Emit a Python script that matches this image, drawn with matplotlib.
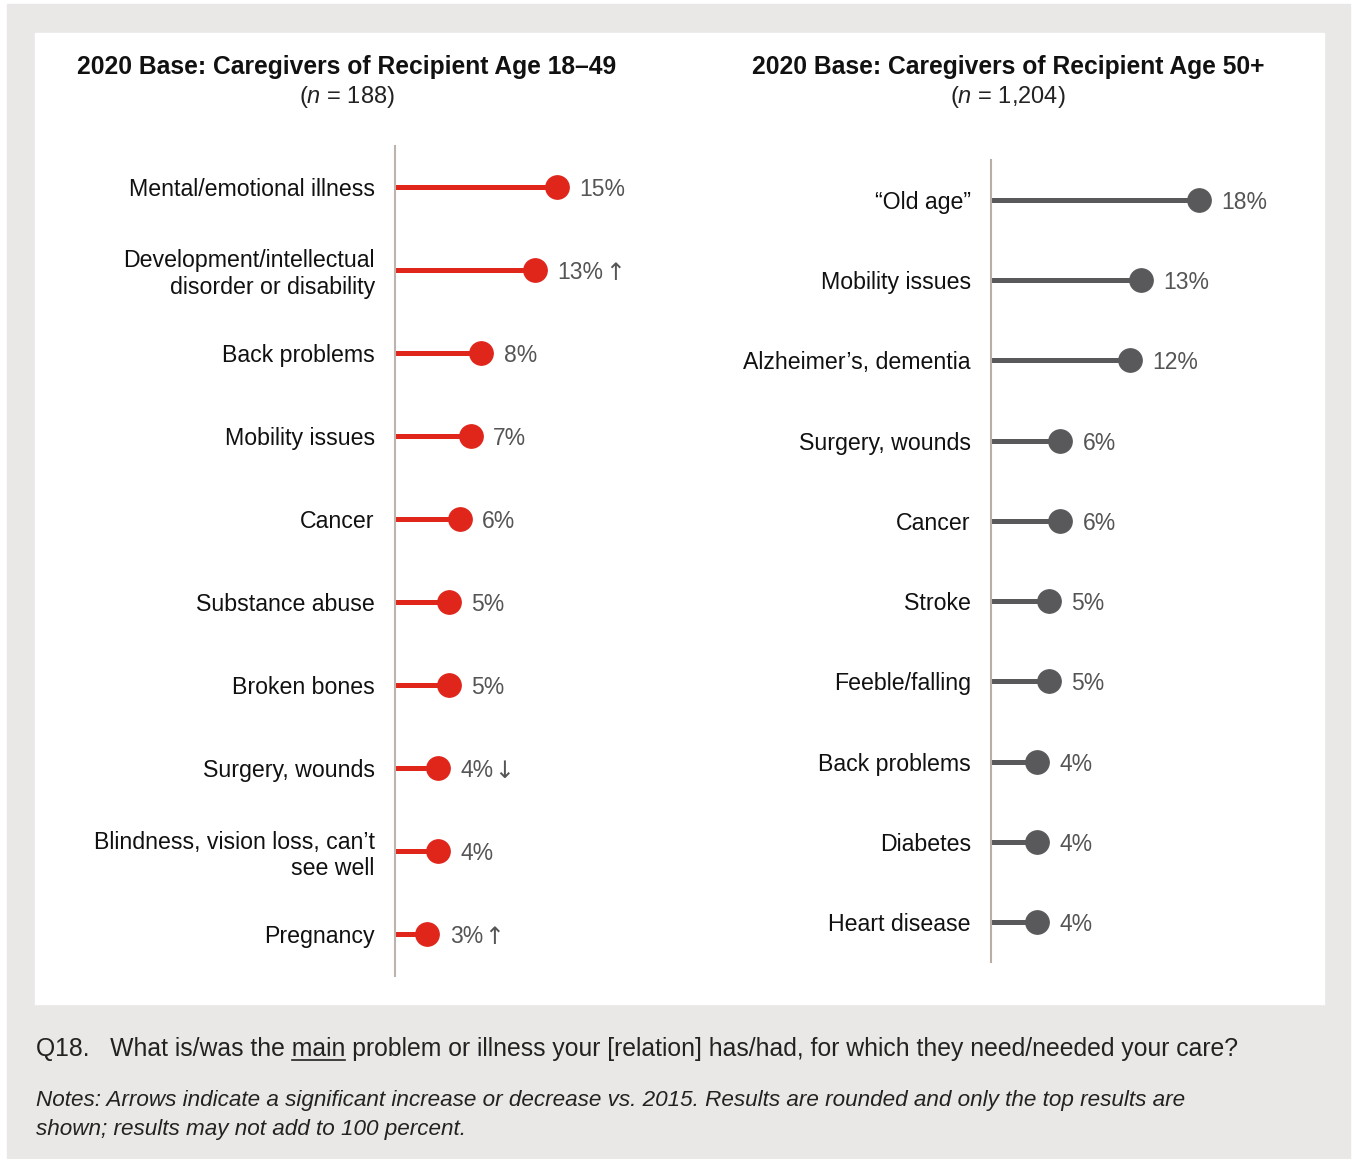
import matplotlib
matplotlib.use("Agg")
import matplotlib.pyplot as plt
from matplotlib.patches import Rectangle
from matplotlib.lines import Line2D

plt.rcParams['font.family'] = ['Liberation Sans', 'DejaVu Sans']
plt.rcParams['mathtext.fontset'] = 'custom'
plt.rcParams['mathtext.rm'] = 'Liberation Sans'
plt.rcParams['mathtext.it'] = 'Liberation Sans:italic'

W, H = 1353, 1159

# data
left_title = "2020 Base: Caregivers of Recipient Age 18–49"
left_n = "($n$ = 188)"
left_labels = ["Mental/emotional illness", "Development/intellectual\ndisorder or disability",
               "Back problems", "Mobility issues", "Cancer", "Substance abuse",
               "Broken bones", "Surgery, wounds", "Blindness, vision loss, can’t\nsee well",
               "Pregnancy"]
left_values = [15, 13, 8, 7, 6, 5, 5, 4, 4, 3]
left_marks = ["", "↑", "", "", "", "", "", "↓", "", "↑"]

right_title = "2020 Base: Caregivers of Recipient Age 50+"
right_n = "($n$ = 1,204)"
right_labels = ["“Old age”", "Mobility issues", "Alzheimer’s, dementia", "Surgery, wounds",
                "Cancer", "Stroke", "Feeble/falling", "Back problems", "Diabetes",
                "Heart disease"]
right_values = [18, 13, 12, 6, 6, 5, 5, 4, 4, 4]
right_marks = [""] * 10

q_prefix = "Q18.   What is/was the "
q_under = "main"
q_rest = " problem or illness your [relation] has/had, for which they need/needed your care?"
notes = ("Notes: Arrows indicate a significant increase or decrease vs. 2015. Results are rounded and only the top results are\n"
         "shown; results may not add to 100 percent.")

fig = plt.figure(figsize=(W / 100, H / 100), dpi=100)
fig.patches.append(Rectangle((7 / W, 1 - 1158 / H), (1350 - 7) / W, (1158 - 4) / H,
                             transform=fig.transFigure, color="#e9e8e6", zorder=-2))
fig.patches.append(Rectangle((35 / W, 1 - 1004 / H), (1324 - 35) / W, (1004 - 33) / H,
                             transform=fig.transFigure, color="white", zorder=-1))
r = fig.canvas.get_renderer()


def panel(x0, y0, y1, pxper, labels, values, marks, color, spine_col):
    n = len(labels)
    xmax = 25
    ax = fig.add_axes([x0 / W, 1 - y1 / H, pxper * xmax / W, (y1 - y0) / H])
    ax.patch.set_alpha(0)
    ys = list(range(n))
    ax.hlines(ys, 0, values, color=color, lw=3.6, zorder=2)
    ax.plot(values, ys, 'o', color=color, ms=16.8, zorder=3, clip_on=False)
    ax.set_xlim(0, xmax)
    ax.set_ylim(n - 0.5, -0.5)
    for y, v, m in zip(ys, values, marks):
        t = ax.annotate(f"{v}%", (v, y), xytext=(16, 0), textcoords="offset points",
                        va="center_baseline", ha="left", fontsize=16.5, color="#555557")
        if m:
            x1 = t.get_window_extent(r).x1
            ax.annotate(m, (v, y), xytext=((x1 - ax.transData.transform((v, y))[0]) * 0.72 + 0.8, 0),
                        textcoords="offset points", va="center_baseline", ha="left",
                        fontsize=17, color="#555557", family="DejaVu Sans")
    ax.set_yticks(ys)
    ax.set_yticklabels(labels, fontsize=16.7, color="#111111", linespacing=1.2)
    ax.tick_params(axis="y", length=0, pad=14.5)
    ax.set_xticks([])
    for s in ["top", "right", "bottom"]:
        ax.spines[s].set_visible(False)
    ax.spines["left"].set_color(spine_col)
    ax.spines["left"].set_linewidth(1.5)
    return ax


rowL = 83.0
panel(395, 187 - rowL / 2, 934 + rowL / 2, 10.8, left_labels, left_values, left_marks,
      "#e0251b", "#bdb5ad")
rowR = 80.2
panel(991, 200 - rowR / 2, 922 + rowR / 2, 11.55, right_labels, right_values, right_marks,
      "#59595b", "#b8aea4")

fig.text(347 / W, 1 - 67 / H, left_title, ha="center", va="center", fontsize=17.7,
         fontweight="bold", color="#111111")
fig.text(347 / W, 1 - 97 / H, left_n, ha="center", va="center", fontsize=17, color="#222222")
fig.text(1008 / W, 1 - 67 / H, right_title, ha="center", va="center", fontsize=17.7,
         fontweight="bold", color="#111111")
fig.text(1008 / W, 1 - 97 / H, right_n, ha="center", va="center", fontsize=17, color="#222222")

qx, qy = 36 / W, 1 - 1056 / H
qfs = 17.8
fig.text(qx, qy, q_prefix + q_under + q_rest, ha="left", va="baseline", fontsize=qfs,
         color="#222222")
# underline "main"
t1 = fig.text(qx, qy, q_prefix + q_under, fontsize=qfs, va="baseline")
t2 = fig.text(qx, qy, q_under, fontsize=qfs, va="baseline")
e_end = t1.get_window_extent(r).x1
e_w = t2.get_window_extent(r).width
t1.remove()
t2.remove()
uy = qy - 4 / H
fig.add_artist(Line2D([(e_end - e_w) / W, e_end / W], [uy, uy], transform=fig.transFigure,
                      color="#222222", lw=1.2))

fig.text(36 / W, 1 - 1115 / H, notes, ha="left", va="center", fontsize=16.2, style="italic",
         color="#222222", linespacing=1.5)

fig.savefig("out.png", dpi=100)
